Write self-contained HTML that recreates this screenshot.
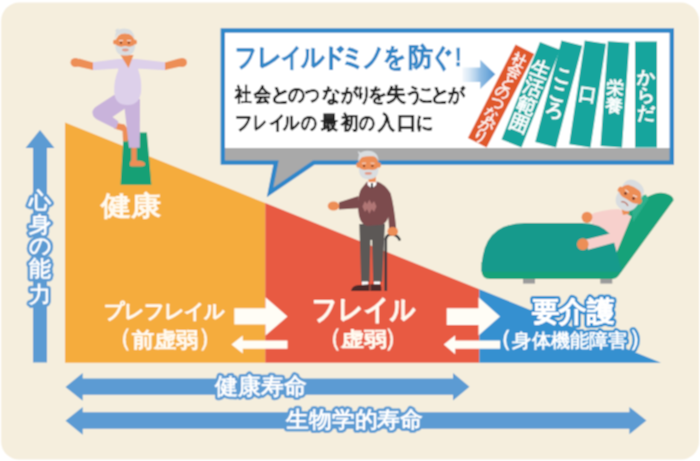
<!DOCTYPE html>
<html lang="ja">
<head>
<meta charset="utf-8">
<style>
html,body{margin:0;padding:0;background:#fff;}
body{width:700px;height:461px;overflow:hidden;font-family:"Liberation Sans",sans-serif;}
svg{display:block;}
#wrap{width:700px;height:461px;}
text{font-family:"Liberation Sans",sans-serif;}
</style>
</head>
<body><div id="wrap">
<svg width="700" height="461" viewBox="0 0 700 461">
<defs>
<filter id="soft" x="0" y="0" width="700" height="461" filterUnits="userSpaceOnUse"><feConvolveMatrix order="3" kernelMatrix="1 2 1 2 4 2 1 2 1" divisor="16" edgeMode="duplicate"/></filter>
<linearGradient id="ga" x1="0" x2="1" y1="0" y2="0">
<stop offset="0" stop-color="#6aa6da" stop-opacity="0.08"/>
<stop offset="0.2" stop-color="#6aa6da" stop-opacity="0.25"/>
<stop offset="0.4" stop-color="#6aa6da" stop-opacity="0.5"/>
<stop offset="0.55" stop-color="#6aa6da" stop-opacity="0.75"/>
<stop offset="1" stop-color="#4f93d0" stop-opacity="1"/>
</linearGradient>
</defs>
<g filter="url(#soft)">
<rect width="700" height="461" fill="#fff"/>
<rect x="1.2" y="2.6" width="697.8" height="457" rx="18" fill="#f5eedd"/>

<!-- big triangle -->
<polygon points="65,122.5 265.3,203.1 265.3,362.8 65,362.8" fill="#f5ac3c"/>
<polygon points="265.3,203.1 479.4,289.2 479.4,362.8 265.3,362.8" fill="#e85a43"/>
<polygon points="479.4,289.2 661,362.8 479.4,362.8" fill="#3590d0"/>

<!-- vertical arrow -->
<polygon points="40,130 54.5,148 47,148 47,362.5 33,362.5 33,148 25.5,148" fill="#5b9bd3"/>

<!-- bottom arrows -->
<polygon points="65.5,387 82.7,373 82.7,378.5 453,378.5 453,373 469.5,386.7 453,400.6 453,394.7 82.7,394.7 82.7,400.8" fill="#5b9bd3"/>
<polygon points="65.5,420.7 82.7,406.9 82.7,412.3 629.4,412.3 629.4,407 646.5,420.5 629.4,434.3 629.4,428.8 82.7,428.8 82.7,434.7" fill="#5b9bd3"/>

<!-- white arrows -->
<g fill="#fffdf6">
<polygon points="234.3,308.2 265.5,308.2 265.5,297.3 287.5,316.4 265.5,335.5 265.5,324.5 234.3,324.5"/>
<polygon points="231.4,344.5 242.8,335.4 242.8,340.4 287.5,340.4 287.5,348.7 242.8,348.7 242.8,353.5"/>
<polygon points="446.7,308.2 478.5,308.2 478.5,297.3 500,316.4 478.5,335.5 478.5,325 446.7,325"/>
<polygon points="443.8,344.5 455.2,335.3 455.2,340.4 500.2,340.4 500.2,348.7 455.2,348.7 455.2,354.2"/>
</g>

<!-- speech box -->
<clipPath id="cg"><rect x="0" y="148" width="700" height="100"/></clipPath>
<path d="M222.8,30.5 H671.8 V162.6 H313.7 L270,192.5 L276,162.6 H222.8 Z" fill="#fff"/>
<path d="M222.8,30.5 H671.8 V162.6 H313.7 L270,192.5 L276,162.6 H222.8 Z" fill="#a9a9a9" clip-path="url(#cg)"/>
<path d="M222.8,30.5 H671.8 V162.6 H313.7 L270,192.5 L276,162.6 H222.8 Z" fill="none" stroke="#2f87c9" stroke-width="4.4" stroke-linejoin="miter" stroke-miterlimit="10"/>

<!-- gradient arrow -->
<polygon points="462.5,67.5 480.3,67.5 480.3,59.8 495.3,74.3 480.3,89 480.3,81.9 462.5,81.9" fill="url(#ga)"/>

<!-- box texts -->
<g font-size="26" font-weight="bold" fill="#3287c7" stroke="#3287c7" stroke-width="0.6">
<text x="234.97" y="65.5" textLength="22.50" lengthAdjust="spacingAndGlyphs">フ</text>
<text x="256.67" y="65.5" textLength="25.64" lengthAdjust="spacingAndGlyphs">レ</text>
<text x="280.94" y="65.5" textLength="21.25" lengthAdjust="spacingAndGlyphs">イ</text>
<text x="300.76" y="65.5" textLength="24.00" lengthAdjust="spacingAndGlyphs">ル</text>
<text x="320.54" y="65.5" textLength="26.36" lengthAdjust="spacingAndGlyphs">ド</text>
<text x="340.19" y="65.5" textLength="26.42" lengthAdjust="spacingAndGlyphs">ミ</text>
<text x="361.64" y="65.5" textLength="23.61" lengthAdjust="spacingAndGlyphs">ノ</text>
<text x="382.62" y="65.5" textLength="23.53" lengthAdjust="spacingAndGlyphs">を</text>
<text x="408.00" y="65.5" textLength="25.00" lengthAdjust="spacingAndGlyphs">防</text>
<text x="430.97" y="65.5" textLength="22.86" lengthAdjust="spacingAndGlyphs">ぐ</text>
<text x="454.90" y="65.5" textLength="6.49" lengthAdjust="spacingAndGlyphs">!</text>
</g>
<g font-size="18.5" font-weight="bold" fill="#222222" stroke="#222222" stroke-width="0.4">
<text x="235.33" y="100.7" textLength="16.50" lengthAdjust="spacingAndGlyphs">社</text>
<text x="254.17" y="100.7" textLength="17.00" lengthAdjust="spacingAndGlyphs">会</text>
<text x="269.68" y="100.7" textLength="20.77" lengthAdjust="spacingAndGlyphs">と</text>
<text x="287.66" y="100.7" textLength="16.84" lengthAdjust="spacingAndGlyphs">の</text>
<text x="305.35" y="100.7" textLength="14.67" lengthAdjust="spacingAndGlyphs">つ</text>
<text x="322.13" y="100.7" textLength="18.48" lengthAdjust="spacingAndGlyphs">な</text>
<text x="340.83" y="100.7" textLength="17.16" lengthAdjust="spacingAndGlyphs">が</text>
<text x="356.46" y="100.7" textLength="15.18" lengthAdjust="spacingAndGlyphs">り</text>
<text x="368.49" y="100.7" textLength="18.82" lengthAdjust="spacingAndGlyphs">を</text>
<text x="386.20" y="100.7" textLength="20.00" lengthAdjust="spacingAndGlyphs">失</text>
<text x="404.98" y="100.7" textLength="18.03" lengthAdjust="spacingAndGlyphs">う</text>
<text x="418.33" y="100.7" textLength="16.67" lengthAdjust="spacingAndGlyphs">こ</text>
<text x="430.30" y="100.7" textLength="20.00" lengthAdjust="spacingAndGlyphs">と</text>
<text x="447.83" y="100.7" textLength="16.67" lengthAdjust="spacingAndGlyphs">が</text>
</g>
<g font-size="18.5" font-weight="bold" fill="#222222" stroke="#222222" stroke-width="0.4">
<text x="234.93" y="128.7" textLength="17.50" lengthAdjust="spacingAndGlyphs">フ</text>
<text x="252.53" y="128.7" textLength="13.88" lengthAdjust="spacingAndGlyphs">レ</text>
<text x="268.69" y="128.7" textLength="16.25" lengthAdjust="spacingAndGlyphs">イ</text>
<text x="282.84" y="128.7" textLength="16.30" lengthAdjust="spacingAndGlyphs">ル</text>
<text x="300.68" y="128.7" textLength="15.79" lengthAdjust="spacingAndGlyphs">の</text>
<text x="321.00" y="128.7" textLength="16.84" lengthAdjust="spacingAndGlyphs">最</text>
<text x="340.85" y="128.7" textLength="17.55" lengthAdjust="spacingAndGlyphs">初</text>
<text x="358.68" y="128.7" textLength="15.79" lengthAdjust="spacingAndGlyphs">の</text>
<text x="378.17" y="128.7" textLength="16.83" lengthAdjust="spacingAndGlyphs">入</text>
<text x="396.70" y="128.7" textLength="20.00" lengthAdjust="spacingAndGlyphs">口</text>
<text x="415.62" y="128.7" textLength="17.26" lengthAdjust="spacingAndGlyphs">に</text>
</g>

<!-- dominoes -->
<g fill="#fff" stroke="#fff">
<g transform="translate(486.6,147.5) rotate(27)" stroke-width="0.5">
<rect x="-21" y="-105" width="21" height="105" fill="#e0582a" stroke="none"/>
<text x="-10.50" y="-88.64" font-size="14.2" text-anchor="middle">社</text>
<text x="-10.50" y="-76.34" font-size="14.2" text-anchor="middle">会</text>
<text x="-10.50" y="-64.04" font-size="14.2" text-anchor="middle">と</text>
<text x="-10.50" y="-51.74" font-size="14.2" text-anchor="middle">の</text>
<text x="-10.50" y="-39.44" font-size="14.2" text-anchor="middle">つ</text>
<text x="-10.50" y="-27.14" font-size="14.2" text-anchor="middle">な</text>
<text x="-10.50" y="-14.84" font-size="14.2" text-anchor="middle">が</text>
<text x="-10.50" y="-2.54" font-size="14.2" text-anchor="middle">り</text>
</g>
<g transform="translate(521.5,147.5) rotate(21.5)" stroke-width="0.8">
<rect x="-21.5" y="-105" width="21.5" height="105" fill="#13a59d" stroke="none"/>
<text x="-10.75" y="-72.63" font-size="19.5" text-anchor="middle">生</text>
<text x="-10.75" y="-53.33" font-size="19.5" text-anchor="middle">活</text>
<text x="-10.75" y="-34.03" font-size="19.5" text-anchor="middle">範</text>
<text x="-10.75" y="-14.73" font-size="19.5" text-anchor="middle">囲</text>
</g>
<g transform="translate(556,147.5) rotate(14.5)" stroke-width="1.0">
<rect x="-21.5" y="-105" width="21.5" height="105" fill="#13a59d" stroke="none"/>
<text x="-10.75" y="-65.64" font-size="18.5" text-anchor="middle">こ</text>
<text x="-10.75" y="-47.34" font-size="18.5" text-anchor="middle">こ</text>
<text x="-10.75" y="-29.04" font-size="18.5" text-anchor="middle">ろ</text>
</g>
<g transform="translate(590.5,147.5) rotate(8.5)" stroke-width="0.9">
<rect x="-21.5" y="-105" width="21.5" height="105" fill="#13a59d" stroke="none"/>
<text x="-10.75" y="-46.02" font-size="18" text-anchor="middle">口</text>
</g>
<g transform="translate(622,147.5) rotate(4)" stroke-width="0.8">
<rect x="-21.5" y="-105" width="21.5" height="105" fill="#13a59d" stroke="none"/>
<text x="-10.75" y="-52.90" font-size="17.5" text-anchor="middle">栄</text>
<text x="-10.75" y="-34.90" font-size="17.5" text-anchor="middle">養</text>
</g>
<g transform="translate(657,147.5) rotate(0)" stroke-width="0.9">
<rect x="-22" y="-106" width="22" height="106" fill="#13a59d" stroke="none"/>
<text x="-11.00" y="-64.72" font-size="18" text-anchor="middle">か</text>
<text x="-11.00" y="-46.52" font-size="18" text-anchor="middle">ら</text>
<text x="-11.00" y="-28.32" font-size="18" text-anchor="middle">だ</text>
</g>
</g>

<!-- yoga man -->
<g>
<polygon points="123.8,132.5 146.9,132.5 151.4,184.7 120.5,184.7" fill="#15a074"/>
<polygon points="114.5,122.5 124.5,124.5 128.5,130 127.8,141.5 123,141.5 122.5,131 114,128.5" fill="#ed8e57"/>
<path d="M131.3,146 L136.7,146 L136.7,160.5 Q144.5,160.8 145.2,163.8 Q145.2,166.5 141.5,166.5 L132,166.5 Q129.3,166.5 129.8,163 L131.3,160 Z" fill="#ed8e57"/>
<polygon points="123.5,99 140,99 139.8,147.8 129,147.8" fill="#c9b3db"/>
<path d="M114,95 L130,100 L125,108.5 L112.5,117 L118.5,121.5 L116,129 L97,119.5 Q91.5,116 92.5,111 Q94,107.5 97,106 Z" fill="#c9b3db"/>
<path d="M117,59 L138,59 L138.3,70 Q141.8,79 141.2,91 Q139.8,105 127.5,105 Q115,105 114.2,92 Q113.8,80 118.3,70 Z" fill="#ddd0ea"/>
<polygon points="92.5,62.3 118,59 118.5,68.5 92.5,70.3" fill="#ddd0ea"/>
<polygon points="136.5,59 165.5,62.3 165.5,70.3 136,68.5" fill="#ddd0ea"/>
<polygon points="93,62.5 79,58.5 77.5,66.5 93,70" fill="#ed8e57"/>
<polygon points="165,62.5 179,58.5 180.5,66.5 165,70" fill="#ed8e57"/>
<ellipse cx="75.5" cy="62.5" rx="5" ry="4.6" fill="#ed8e57"/>
<ellipse cx="182" cy="62.5" rx="5" ry="4.6" fill="#ed8e57"/>
<polygon points="120.5,55 133.5,55 128.5,68" fill="#ed8e57"/>
<ellipse cx="115" cy="42" rx="2" ry="2.6" fill="#ed8e57"/>
<ellipse cx="135" cy="42" rx="2" ry="2.6" fill="#ed8e57"/>
<ellipse cx="125.2" cy="42.5" rx="9.6" ry="9.5" fill="#ed8e57"/>
<path d="M115.2,39 Q114,28.5 124.5,28.6 Q134.5,28.8 134.6,39.5 Q133,35 129,34 Q123,33 118.5,34.5 Q116.2,36 115.2,39 Z" fill="#d9dde0"/>
<path d="M115,31 Q116,28 119,28.5 L117.5,33 Z" fill="#d9dde0"/>
<path d="M115.3,44.5 Q114.8,55.6 125.2,55.6 Q135.5,55.6 135.1,44.5 Q131,47.5 127,46.3 Q125.2,45.8 123.4,46.3 Q119.5,47.5 115.3,44.5 Z" fill="#d9dde0"/>
<ellipse cx="125.4" cy="50" rx="3.4" ry="1.4" fill="#e39a86"/>
<circle cx="121" cy="42.8" r="1.1" fill="#6b2f22"/>
<circle cx="128.8" cy="42.8" r="1.1" fill="#6b2f22"/>
<path d="M119,40.6 L123,40.4 M127,40.4 L131,40.6" stroke="#f3e9e2" stroke-width="0.9"/>
</g>

<!-- frail man -->
<g>
<path d="M385.8,238 L385.8,291" stroke="#3b3a3e" stroke-width="2.6" fill="none"/>
<path d="M385.8,239 Q386.5,234.5 391.5,234.5 Q397.5,234.8 399.5,239.5" stroke="#3b3a3e" stroke-width="2.6" fill="none" stroke-linecap="round"/>
<path d="M359.3,224 L385,224 L382,282 L373.2,282 L372,240 L370.5,240 L369.5,282 L361.2,282 Z" fill="#5b5857"/>
<rect x="362" y="281.5" width="6" height="4" fill="#fff"/>
<rect x="374" y="281.5" width="6" height="4" fill="#fff"/>
<path d="M351,291 Q351.5,286.5 357,285.2 L369.5,284.2 L369.5,291 Z" fill="#4b2b2b"/>
<path d="M370.4,291 L370.4,284.2 L380.5,284.2 Q381.8,286.5 381.4,291 Z" fill="#4b2b2b"/>
<path d="M367.3,181.3 L376.5,181.3 Q385,184 390.6,193.3 Q394,205 396.2,228 L389,228 L388.3,217 Q386.5,223 382,224.8 L367.3,226 Q361,224.5 359,216 Q357.5,210 358.5,205 L358.5,198 Q359.5,191 361.5,188.5 Z" fill="#7b4b4e"/>
<path d="M358.5,196 L339.1,202.3 L339,209.6 L359.6,208.2 Z" fill="#7b4b4e"/>
<ellipse cx="333.5" cy="206" rx="5.8" ry="4.6" fill="#ed8e57"/>
<ellipse cx="392.7" cy="231.5" rx="5.3" ry="4.5" fill="#ed8e57"/>
<path d="M362.4,206.5 L365,201 L367,204 L369.4,199.7 L371.8,204 L374,201 L376.5,206.5 L374,212 L371.8,209 L369.4,213.8 L367,209 L365,212 Z" fill="#b07674"/>
<polygon points="367.3,181 376.8,181 376.2,185 371.8,188.5 367.6,185" fill="#fff"/>
<polygon points="371,183 372.8,183 373,187.5 371.9,189 370.8,187.5" fill="#3a2a2a"/>
<rect x="368.5" y="176" width="7.3" height="6.2" fill="#ed8e57"/>
<ellipse cx="358.3" cy="165" rx="2" ry="2.8" fill="#ed8e57"/>
<ellipse cx="378.9" cy="165" rx="2" ry="2.8" fill="#ed8e57"/>
<ellipse cx="368.5" cy="164" rx="10" ry="9.5" fill="#ed8e57"/>
<path d="M358.4,162 Q357,150.5 368,150.8 Q378.5,151 378.6,162 Q377.2,157 373,156.3 Q367,155.8 362,157.2 Q359.8,159 358.4,162 Z" fill="#d9dde0"/>
<path d="M357.8,151 Q358.5,155.5 362,157 L360.5,152.5 Z" fill="#d9dde0"/>
<path d="M358.8,167.5 Q358.5,179.3 368.6,179.3 Q378.8,179.3 378.6,167.5 Q375,170.5 371,169.8 Q368.6,169.4 366.2,169.8 Q362.2,170.5 358.8,167.5 Z" fill="#d9dde0"/>
<ellipse cx="368.3" cy="173.4" rx="3.6" ry="1.4" fill="#e39a86"/>
<circle cx="364.1" cy="166" r="1.1" fill="#6b2f22"/>
<circle cx="372.4" cy="166" r="1.1" fill="#6b2f22"/>
<path d="M362,163.3 L366,163.1 M370.5,163.1 L374.5,163.3" stroke="#f3e9e2" stroke-width="0.9"/>
</g>

<!-- recliner -->
<g>
<rect x="523" y="277" width="12" height="6.6" fill="#9b9b9b"/>
<rect x="600.3" y="277" width="12" height="6.6" fill="#9b9b9b"/>
<path d="M648,196.5 Q658,191 666,193.5 Q674,196 673.5,200.5 L619.5,274.5 Q616.5,279 611.5,279 L490,279 Q481.5,279 481.5,270 L481.5,262 L600,262 L631,205 Z" fill="#19a279"/>
<path d="M631,199 L646,194.5 L648.5,199 L633,222 Z" fill="#2fb08c"/>
<path d="M590.5,214.5 Q602,209.5 619,209 L631.5,216.5 L616,254 L596,250 Z" fill="#f7d0cc"/>
<path d="M481.5,270.5 Q481.5,241 498,230 Q509,223 525,223 L582,223 Q600,223 610,234 Q613,238 614,242 L622,271.7 L481.5,271.7 Z" fill="#129a8c"/>
<path d="M586,239.5 L614,232.5 L616.5,242 L588,249.8 Z" fill="#f7d0cc"/>
<ellipse cx="587" cy="217.3" rx="5.4" ry="5.6" fill="#ed8e57"/>
<ellipse cx="582.8" cy="244.2" rx="5.8" ry="6" fill="#ed8e57"/>
<path d="M621,207 L628,206 L629.5,213.5 L623,215 Z" fill="#ed8e57"/>
<g transform="translate(629.8 195.5) scale(1.13) translate(-629.8 -196.5) rotate(32 629.8 196.5)">
<ellipse cx="619.8" cy="196.5" rx="2" ry="2.7" fill="#ed8e57"/>
<ellipse cx="639.8" cy="196.5" rx="2" ry="2.7" fill="#ed8e57"/>
<ellipse cx="629.8" cy="196.2" rx="10" ry="10.5" fill="#ed8e57"/>
<path d="M619.8,194 Q618.5,182.5 629.5,182.7 Q640.5,183 640,194 Q638.5,189 634.5,188.3 Q628.5,187.8 623.5,189.3 Q621,191 619.8,194 Z" fill="#d9dde0"/>
<path d="M619.7,198.5 Q619.3,210.8 629.8,210.8 Q640.3,210.8 640,198.5 Q636.5,201.5 632.5,200.8 Q629.8,200.4 627.2,200.8 Q623.2,201.5 619.7,198.5 Z" fill="#d9dde0"/>
<path d="M626.3,205.2 Q629.8,202.8 633.3,205.2" stroke="#b86a5a" stroke-width="1.1" fill="none"/>
<circle cx="625.6" cy="197" r="1.2" fill="#6b2f22"/>
<circle cx="634" cy="197" r="1.2" fill="#6b2f22"/>
<path d="M623.5,194.2 L627.5,194.8 M632,194.8 L636,194.2" stroke="#f3e9e2" stroke-width="0.9"/>
</g>
</g>

<!-- labels -->
<g fill="#fffaf0" stroke="#fffaf0">
<text x="100.6" y="214.7" font-size="27.4" stroke-width="1.2" textLength="60.3" lengthAdjust="spacingAndGlyphs">健康</text>
<text x="103.8" y="318.3" font-size="19.8" stroke-width="1.2" textLength="120.8" lengthAdjust="spacingAndGlyphs">プレフレイル</text>
<text x="107.35" y="346.35" font-size="25" stroke-width="0.6">（</text>
<text x="131.7" y="346.6" font-size="20.6" stroke-width="1.2" textLength="66.6" lengthAdjust="spacingAndGlyphs">前虚弱</text>
<text x="197.65" y="346.35" font-size="25" stroke-width="0.6">）</text>
<text x="312.3" y="319.1" font-size="28" stroke-width="1.7" textLength="103" lengthAdjust="spacingAndGlyphs">フレイル</text>
<text x="316.75" y="345.75" font-size="25" stroke-width="0.6">（</text>
<text x="341.2" y="345.5" font-size="20.2" stroke-width="1.2" textLength="45.8" lengthAdjust="spacingAndGlyphs">虚弱</text>
<text x="384.15" y="345.75" font-size="25" stroke-width="0.6">）</text>
</g>
<g font-weight="bold" fill="#fff" stroke="#3590d0" stroke-width="6" paint-order="stroke" stroke-linejoin="round">
<text x="532" y="320.5" font-size="27.7" textLength="82.2" lengthAdjust="spacingAndGlyphs">要介護</text>
</g>
<g font-weight="bold" fill="#fff" stroke="#3590d0" stroke-width="5" paint-order="stroke" stroke-linejoin="round">
<text x="489.45" y="345.9" font-size="23">（</text>
<text x="512.4" y="346.8" font-size="18.5" textLength="115" lengthAdjust="spacingAndGlyphs">身体機能障害</text>
<text x="629.45" y="345.9" font-size="23">）</text>
</g>
<g font-weight="bold" fill="#fff" stroke="#5b9bd3" stroke-width="5.5" paint-order="stroke" stroke-linejoin="round" text-anchor="middle" font-size="22">
<text x="40" y="208.2">心</text>
<text x="40" y="231.5">身</text>
<text x="40" y="253.3">の</text>
<text x="40" y="276.4">能</text>
<text x="40" y="302.4">力</text>
</g>
<g font-weight="bold" fill="#fff" stroke="#5b9bd3" stroke-width="5.5" paint-order="stroke" stroke-linejoin="round">
<text x="215.2" y="394.1" font-size="22.7" textLength="91.5" lengthAdjust="spacingAndGlyphs">健康寿命</text>
<text x="286.4" y="427.2" font-size="22.3" textLength="136.5" lengthAdjust="spacingAndGlyphs">生物学的寿命</text>
</g>
<!-- white overlay -->
<g font-weight="bold" fill="#fff" stroke="#fff" stroke-width="0.35" stroke-linejoin="round">
<text x="532" y="320.5" font-size="27.7" textLength="82.2" lengthAdjust="spacingAndGlyphs">要介護</text>
</g>
</g>
</svg></div>
</body>
</html>
